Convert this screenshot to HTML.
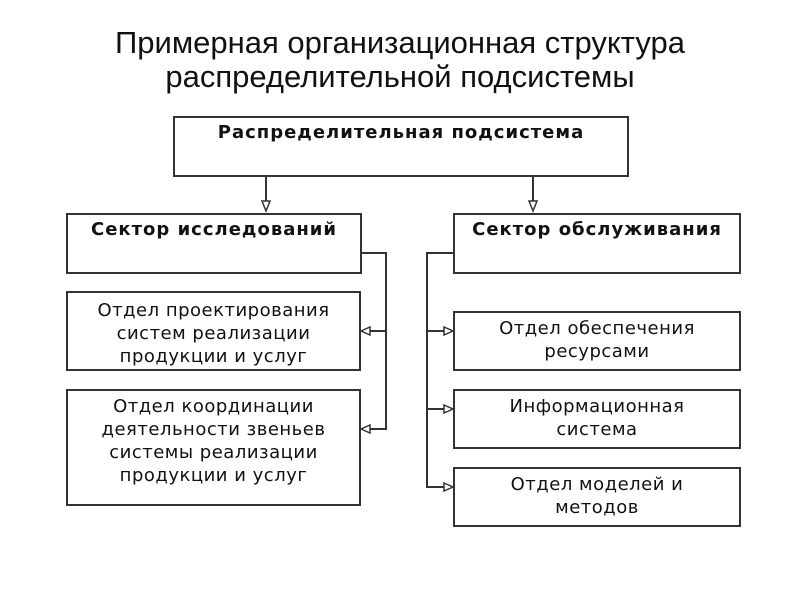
<!DOCTYPE html>
<html><head><meta charset="utf-8"><style>
body{margin:0;width:800px;height:600px;background:#fff;overflow:hidden;position:relative}
.t{position:absolute;left:0;width:800px;text-align:center;font:31px "Liberation Sans",sans-serif;color:#111;line-height:34px}
.b{position:absolute;border:2px solid #333;box-sizing:border-box;font:18px "DejaVu Sans",sans-serif;letter-spacing:0.5px;color:#111;text-align:center;line-height:23px;white-space:nowrap}
.h{font-weight:bold;padding-top:3px;letter-spacing:1px}
</style></head><body>
<div class="t" style="top:26px">Примерная организационная структура<br>распределительной подсистемы</div>
<div class="b h" style="left:173px;top:116px;width:456px;height:61px">Распределительная подсистема</div>
<div class="b h" style="left:66px;top:213px;width:296px;height:61px">Сектор исследований</div>
<div class="b h" style="left:453px;top:213px;width:288px;height:61px">Сектор обслуживания</div>
<div class="b" style="left:66px;top:291px;width:295px;height:80px;padding-top:6px">Отдел проектирования<br>систем реализации<br>продукции и услуг</div>
<div class="b" style="left:66px;top:389px;width:295px;height:117px;padding-top:4px">Отдел координации<br>деятельности звеньев<br>системы реализации<br>продукции и услуг</div>
<div class="b" style="left:453px;top:311px;width:288px;height:60px;padding-top:4px">Отдел обеспечения<br>ресурсами</div>
<div class="b" style="left:453px;top:389px;width:288px;height:60px;padding-top:4px">Информационная<br>система</div>
<div class="b" style="left:453px;top:467px;width:288px;height:60px;padding-top:4px">Отдел моделей и<br>методов</div>
<svg width="800" height="600" style="position:absolute;left:0;top:0" fill="none" stroke="#333" stroke-width="2">
<path d="M266 177V208M533 177V208"/>
<path d="M361 253H386V429H368M386 331H368"/>
<path d="M454 253H427V487H446M427 331H446M427 409H446"/>
<g fill="#fff" stroke-width="1.5">
<path d="M262 201L270 201L266 211Z"/><path d="M529 201L537 201L533 211Z"/>
<path d="M370 327L370 335L361 331Z"/><path d="M370 425L370 433L361 429Z"/>
<path d="M444 327L444 335L453 331Z"/><path d="M444 405L444 413L453 409Z"/><path d="M444 483L444 491L453 487Z"/>
</g></svg>
</body></html>
